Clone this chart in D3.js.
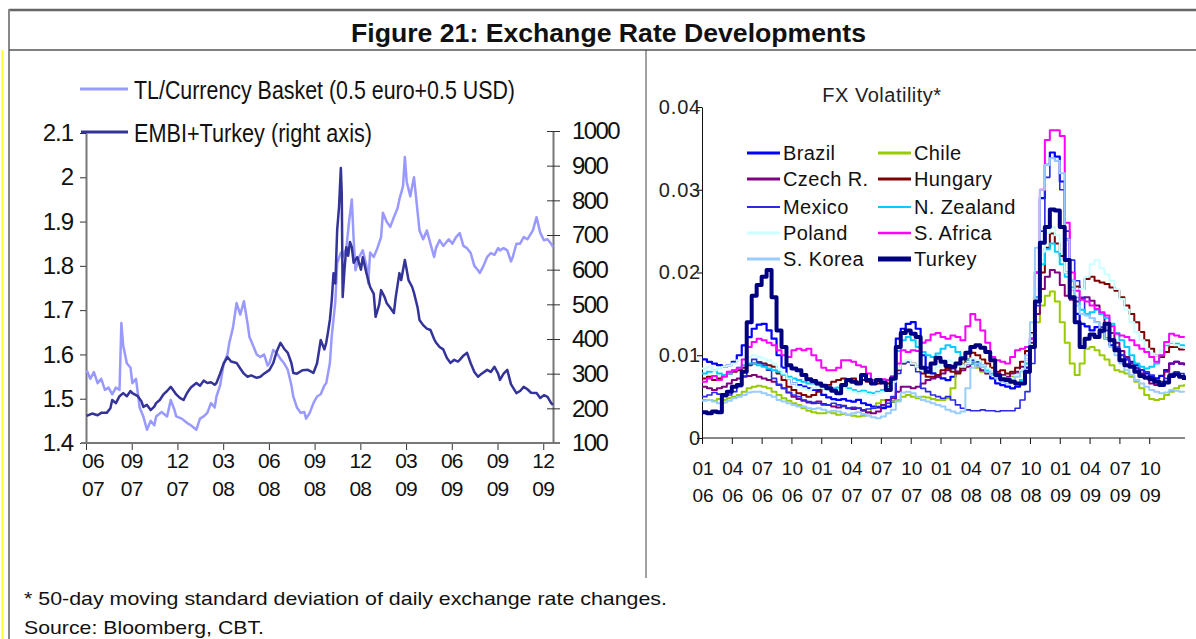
<!DOCTYPE html>
<html>
<head>
<meta charset="utf-8">
<script src="https://cdn.jsdelivr.net/npm/d3@7"></script>
<style>
  html, body { margin: 0; padding: 0; background: #fff; }
  svg { display: block; font-family: "Liberation Sans", Arial, sans-serif; }
</style>
</head>
<body>
<svg id="chart" width="1196" height="639"></svg>
<script>
// ---- left panel data: [decimal year, value] ----
const basketSeries = [
  [2007.42,1.565],[2007.44,1.545],[2007.46,1.56],[2007.48,1.535],[2007.50,1.545],[2007.52,1.52],[2007.54,1.525],
  [2007.56,1.51],[2007.58,1.525],[2007.60,1.52],[2007.61,1.671],[2007.62,1.62],[2007.64,1.58],[2007.66,1.57],
  [2007.67,1.535],[2007.69,1.545],[2007.71,1.48],[2007.73,1.46],[2007.75,1.43],[2007.77,1.45],[2007.79,1.44],
  [2007.80,1.46],[2007.83,1.47],[2007.86,1.46],[2007.88,1.497],[2007.90,1.475],[2007.91,1.46],[2007.94,1.455],
  [2007.97,1.445],[2007.99,1.44],[2008.02,1.43],[2008.04,1.455],[2008.06,1.46],[2008.08,1.468],[2008.10,1.49],
  [2008.12,1.48],[2008.13,1.505],[2008.15,1.53],[2008.17,1.58],[2008.19,1.6],[2008.20,1.626],[2008.22,1.66],
  [2008.24,1.716],[2008.26,1.69],[2008.28,1.72],[2008.30,1.67],[2008.31,1.64],[2008.33,1.62],[2008.35,1.6],
  [2008.37,1.594],[2008.39,1.6],[2008.41,1.575],[2008.42,1.58],[2008.44,1.61],[2008.46,1.603],[2008.48,1.59],
  [2008.50,1.58],[2008.52,1.565],[2008.54,1.53],[2008.55,1.505],[2008.57,1.48],[2008.59,1.468],[2008.61,1.47],
  [2008.62,1.455],[2008.64,1.468],[2008.66,1.49],[2008.68,1.505],[2008.70,1.51],[2008.72,1.53],[2008.73,1.535],
  [2008.75,1.58],[2008.76,1.64],[2008.78,1.72],[2008.79,1.806],[2008.81,1.83],[2008.82,1.82],[2008.84,1.84],
  [2008.855,1.9],[2008.87,1.95],[2008.88,1.86],[2008.89,1.79],[2008.91,1.82],[2008.93,1.835],[2008.95,1.80],
  [2008.96,1.76],[2008.97,1.83],[2008.99,1.82],[2009.01,1.84],[2009.03,1.865],[2009.04,1.92],[2009.06,1.90],
  [2009.08,1.888],[2009.10,1.91],[2009.12,1.93],[2009.13,1.95],[2009.15,1.98],[2009.16,2.046],[2009.17,1.99],
  [2009.19,1.957],[2009.20,1.98],[2009.21,2.0],[2009.22,1.96],[2009.24,1.88],[2009.26,1.86],[2009.28,1.88],
  [2009.30,1.85],[2009.32,1.82],[2009.33,1.84],[2009.35,1.858],[2009.37,1.845],[2009.40,1.86],[2009.42,1.85],
  [2009.44,1.865],[2009.46,1.874],[2009.48,1.845],[2009.50,1.84],[2009.52,1.829],[2009.54,1.8],[2009.56,1.79],
  [2009.57,1.784],[2009.59,1.80],[2009.61,1.82],[2009.63,1.829],[2009.65,1.825],[2009.67,1.84],[2009.68,1.835],
  [2009.70,1.84],[2009.72,1.835],[2009.74,1.81],[2009.75,1.82],[2009.77,1.85],[2009.79,1.85],[2009.81,1.865],
  [2009.83,1.86],[2009.86,1.88],[2009.88,1.91],[2009.90,1.875],[2009.92,1.858],[2009.94,1.86],[2009.96,1.85],
  [2009.97,1.843]
];
const embiSeries = [
  [2007.42,178],[2007.45,185],[2007.48,180],[2007.50,187],[2007.53,187],[2007.55,200],[2007.56,224],[2007.58,215],
  [2007.60,235],[2007.62,244],[2007.64,235],[2007.66,250],[2007.67,244],[2007.70,235],[2007.72,220],[2007.73,204],
  [2007.75,210],[2007.77,195],[2007.79,205],[2007.80,215],[2007.82,224],[2007.84,240],[2007.86,250],[2007.88,262],
  [2007.89,255],[2007.91,240],[2007.93,230],[2007.95,224],[2007.97,245],[2007.99,260],[2008.02,273],[2008.04,265],
  [2008.06,280],[2008.08,273],[2008.10,275],[2008.12,268],[2008.13,273],[2008.15,300],[2008.17,330],[2008.19,348],
  [2008.21,335],[2008.24,331],[2008.26,315],[2008.28,300],[2008.30,291],[2008.32,295],[2008.35,288],[2008.37,291],
  [2008.39,300],[2008.42,311],[2008.44,330],[2008.46,365],[2008.48,389],[2008.50,372],[2008.52,360],[2008.54,330],
  [2008.55,302],[2008.57,300],[2008.60,310],[2008.63,311],[2008.65,305],[2008.66,302],[2008.68,330],[2008.70,397],
  [2008.72,370],[2008.73,389],[2008.74,420],[2008.75,455],[2008.76,510],[2008.77,590],[2008.78,560],[2008.79,715],
  [2008.80,780],[2008.81,893],[2008.815,820],[2008.82,521],[2008.83,600],[2008.84,665],[2008.85,640],[2008.86,680],
  [2008.87,665],[2008.88,620],[2008.90,636],[2008.92,600],[2008.93,636],[2008.95,590],[2008.97,550],[2008.99,530],
  [2009.00,464],[2009.02,500],[2009.03,541],[2009.05,520],[2009.06,504],[2009.08,490],[2009.10,475],[2009.11,520],
  [2009.13,590],[2009.14,570],[2009.16,628],[2009.17,600],[2009.18,570],[2009.20,550],[2009.21,533],[2009.23,490],
  [2009.24,455],[2009.26,440],[2009.28,430],[2009.30,426],[2009.32,400],[2009.33,390],[2009.35,377],[2009.37,370],
  [2009.39,345],[2009.41,331],[2009.43,340],[2009.45,335],[2009.46,340],[2009.48,352],[2009.50,360],[2009.52,330],
  [2009.54,305],[2009.56,291],[2009.58,300],[2009.61,311],[2009.63,305],[2009.65,320],[2009.67,300],[2009.68,282],
  [2009.70,300],[2009.72,311],[2009.74,270],[2009.77,244],[2009.79,250],[2009.81,262],[2009.83,255],[2009.85,245],
  [2009.88,244],[2009.90,230],[2009.92,238],[2009.94,233],[2009.96,215],[2009.97,210]
];
const basketTicks = [1.4, 1.5, 1.6, 1.7, 1.8, 1.9, 2.0, 2.1];
const embiTicks = [100, 200, 300, 400, 500, 600, 700, 800, 900, 1000];
const leftTickDates = [2007+5/12, 2007+8/12, 2007+11/12, 2008+2/12, 2008+5/12, 2008+8/12,
                       2008+11/12, 2009+2/12, 2009+5/12, 2009+8/12, 2009+11/12];
const leftTickMonth = ['06','09','12','03','06','09','12','03','06','09','12'];
const leftTickYear  = ['07','07','07','08','08','08','08','09','09','09','09'];

// ---- right panel data: half-monthly from Jan 2006 ----
const fxDates = d3.range(98).map(i => 2006 + i / 24);
const brazil = [
  .0095,.0092,.0090,.0088,.0086,.0088,.0092,.0100,.0112,.0122, .0132,.0137,.0138,.0130,.0120,.0100,.0085,.0072,.0066,.0064,
  .0062,.0060,.0058,.0058,.0052,.0049,.0047,.0046,.0047,.0045, .0044,.0046,.0042,.0040,.0038,.0037,.0036,.0038,.0044,.0120,
  .0132,.0138,.0140,.0132,.0100,.0085,.0078,.0074,.0072,.0070, .0074,.0080,.0085,.0090,.0094,.0092,.0088,.0080,.0072,.0066,
  .0064,.0062,.0060,.0062,.0070,.0085,.0120,.0200,.0290,.0330, .0345,.0340,.0310,.0240,.0180,.0150,.0138,.0135,.0130,.0134,
  .0128,.0120,.0112,.0108,.0100,.0095,.0092,.0088,.0082,.0078, .0074,.0072,.0075,.0082,.0090,.0092,.0090,.0088];
const chile = [
  .0046,.0046,.0045,.0047,.0046,.0048,.0050,.0052,.0056,.0060, .0062,.0063,.0062,.0060,.0056,.0052,.0048,.0045,.0042,.0040,
  .0036,.0033,.0031,.0030,.0030,.0031,.0030,.0028,.0029,.0028, .0027,.0026,.0027,.0030,.0036,.0042,.0046,.0045,.0044,.0046,
  .0050,.0052,.0050,.0048,.0050,.0049,.0047,.0046,.0046,.0048, .0060,.0080,.0090,.0095,.0092,.0085,.0080,.0078,.0076,.0074,
  .0072,.0070,.0074,.0078,.0082,.0090,.0110,.0140,.0160,.0172, .0177,.0165,.0140,.0115,.0090,.0076,.0090,.0108,.0110,.0106,
  .0100,.0095,.0088,.0082,.0080,.0078,.0074,.0068,.0060,.0052, .0047,.0046,.0047,.0052,.0056,.0060,.0063,.0065];
const czech = [
  .0062,.0060,.0058,.0060,.0062,.0066,.0070,.0072,.0074,.0075, .0076,.0074,.0072,.0070,.0068,.0064,.0060,.0055,.0050,.0047,
  .0045,.0043,.0042,.0044,.0041,.0040,.0038,.0037,.0039,.0036, .0035,.0036,.0033,.0031,.0030,.0032,.0040,.0046,.0048,.0056,
  .0062,.0062,.0060,.0062,.0066,.0070,.0072,.0074,.0078,.0082, .0084,.0080,.0082,.0086,.0090,.0088,.0082,.0078,.0080,.0078,
  .0076,.0074,.0078,.0080,.0086,.0095,.0115,.0150,.0180,.0195, .0203,.0200,.0185,.0172,.0167,.0165,.0168,.0170,.0166,.0160,
  .0150,.0138,.0127,.0115,.0105,.0098,.0090,.0084,.0078,.0072, .0066,.0064,.0068,.0080,.0090,.0092,.0090,.0088];
const hungary = [
  .0072,.0074,.0070,.0072,.0075,.0078,.0080,.0082,.0085,.0088, .0090,.0091,.0090,.0088,.0086,.0078,.0070,.0062,.0058,.0054,
  .0052,.0050,.0052,.0056,.0060,.0064,.0068,.0070,.0072,.0070, .0072,.0068,.0070,.0068,.0066,.0066,.0067,.0066,.0070,.0082,
  .0090,.0092,.0090,.0086,.0078,.0074,.0074,.0076,.0082,.0084, .0080,.0078,.0085,.0095,.0103,.0100,.0095,.0090,.0085,.0080,
  .0082,.0078,.0080,.0085,.0092,.0105,.0127,.0170,.0200,.0230, .0247,.0235,.0220,.0200,.0190,.0183,.0180,.0192,.0195,.0190,
  .0188,.0186,.0182,.0178,.0170,.0160,.0150,.0140,.0128,.0118, .0108,.0100,.0098,.0104,.0110,.0110,.0107,.0106];
const mexico = [
  .0050,.0052,.0055,.0053,.0050,.0052,.0056,.0062,.0075,.0088, .0095,.0092,.0088,.0082,.0072,.0065,.0060,.0055,.0052,.0050,
  .0046,.0044,.0043,.0042,.0040,.0040,.0042,.0040,.0038,.0036, .0037,.0036,.0034,.0035,.0036,.0038,.0039,.0042,.0050,.0078,
  .0090,.0092,.0088,.0080,.0060,.0056,.0052,.0050,.0048,.0050, .0046,.0040,.0036,.0034,.0033,.0033,.0034,.0033,.0033,.0032,
  .0033,.0033,.0033,.0036,.0046,.0056,.0090,.0160,.0250,.0315, .0338,.0335,.0300,.0250,.0215,.0190,.0170,.0150,.0145,.0140,
  .0134,.0130,.0120,.0110,.0100,.0095,.0090,.0085,.0082,.0080, .0076,.0070,.0068,.0072,.0078,.0080,.0078,.0076];
const newZealand = [
  .0078,.0080,.0082,.0078,.0076,.0078,.0082,.0085,.0088,.0090, .0090,.0088,.0086,.0084,.0082,.0080,.0076,.0074,.0072,.0070,
  .0068,.0066,.0066,.0064,.0062,.0062,.0060,.0061,.0062,.0060, .0058,.0056,.0057,.0055,.0054,.0056,.0058,.0062,.0075,.0105,
  .0118,.0122,.0118,.0110,.0104,.0100,.0098,.0102,.0108,.0112, .0110,.0104,.0098,.0095,.0090,.0088,.0086,.0082,.0078,.0075,
  .0072,.0070,.0068,.0066,.0070,.0090,.0120,.0170,.0210,.0228, .0235,.0225,.0210,.0195,.0182,.0170,.0155,.0150,.0152,.0155,
  .0150,.0145,.0138,.0127,.0118,.0110,.0100,.0090,.0086,.0084, .0086,.0090,.0100,.0112,.0115,.0114,.0112,.0110];
const poland = [
  .0084,.0086,.0082,.0084,.0086,.0088,.0090,.0094,.0096,.0098, .0100,.0098,.0096,.0094,.0090,.0084,.0078,.0072,.0066,.0062,
  .0060,.0058,.0060,.0062,.0060,.0058,.0056,.0058,.0060,.0058, .0056,.0054,.0055,.0053,.0052,.0054,.0056,.0060,.0068,.0084,
  .0092,.0094,.0090,.0086,.0082,.0080,.0082,.0086,.0090,.0094, .0092,.0088,.0086,.0090,.0096,.0094,.0088,.0084,.0080,.0076,
  .0074,.0070,.0072,.0076,.0082,.0095,.0125,.0180,.0225,.0248, .0255,.0245,.0225,.0200,.0180,.0172,.0180,.0195,.0210,.0215,
  .0205,.0198,.0190,.0180,.0168,.0155,.0140,.0128,.0118,.0108, .0102,.0100,.0106,.0114,.0116,.0112,.0110,.0108];
const southAfrica = [
  .0068,.0072,.0075,.0070,.0074,.0080,.0082,.0085,.0095,.0110, .0116,.0120,.0118,.0115,.0112,.0106,.0100,.0098,.0106,.0108,
  .0106,.0108,.0100,.0094,.0085,.0082,.0082,.0085,.0094,.0094, .0092,.0088,.0086,.0078,.0070,.0070,.0071,.0070,.0074,.0090,
  .0106,.0104,.0106,.0105,.0115,.0118,.0125,.0127,.0122,.0120, .0124,.0122,.0118,.0135,.0150,.0143,.0130,.0115,.0098,.0094,
  .0092,.0090,.0098,.0106,.0108,.0110,.0120,.0200,.0300,.0360, .0372,.0372,.0365,.0260,.0200,.0178,.0167,.0165,.0160,.0156,
  .0152,.0148,.0135,.0126,.0124,.0122,.0118,.0112,.0108,.0104, .0098,.0092,.0100,.0116,.0126,.0124,.0122,.0121];
const southKorea = [
  .0045,.0046,.0044,.0042,.0043,.0045,.0048,.0050,.0052,.0055, .0056,.0056,.0054,.0052,.0050,.0046,.0044,.0042,.0040,.0038,
  .0038,.0036,.0035,.0036,.0034,.0032,.0033,.0032,.0030,.0028, .0030,.0031,.0029,.0027,.0025,.0024,.0026,.0030,.0034,.0044,
  .0055,.0056,.0054,.0050,.0046,.0044,.0042,.0040,.0038,.0034, .0032,.0030,.0032,.0060,.0085,.0090,.0086,.0080,.0076,.0072,
  .0068,.0066,.0070,.0074,.0080,.0100,.0140,.0230,.0300,.0330, .0338,.0335,.0320,.0240,.0190,.0160,.0150,.0148,.0145,.0140,
  .0130,.0120,.0110,.0100,.0090,.0082,.0076,.0070,.0066,.0062, .0058,.0056,.0054,.0055,.0058,.0057,.0056,.0055];
const turkey = [
  .0031,.0030,.0032,.0031,.0052,.0056,.0062,.0064,.0080,.0140, .0172,.0185,.0195,.0203,.0170,.0130,.0110,.0088,.0084,.0082,
  .0076,.0071,.0069,.0066,.0063,.0060,.0057,.0054,.0064,.0070, .0068,.0066,.0076,.0070,.0066,.0070,.0067,.0058,.0072,.0110,
  .0127,.0130,.0126,.0122,.0085,.0080,.0090,.0097,.0092,.0087, .0086,.0090,.0096,.0103,.0110,.0112,.0109,.0104,.0094,.0076,
  .0071,.0070,.0068,.0066,.0066,.0080,.0110,.0165,.0236,.0255, .0276,.0275,.0255,.0215,.0170,.0140,.0110,.0120,.0125,.0122,
  .0130,.0138,.0118,.0106,.0094,.0088,.0086,.0080,.0075,.0073, .0071,.0068,.0064,.0067,.0075,.0077,.0074,.0070];
const fxNames = ['Brazil','Chile','Czech R.','Hungary','Mexico','N. Zealand','Poland','S. Africa','S. Korea','Turkey'];
const fxValues = [brazil, chile, czech, hungary, mexico, newZealand, poland, southAfrica, southKorea, turkey];
const fxTicks = [0, 0.01, 0.02, 0.03, 0.04];
const fxTickDates = [2006, 2006.25, 2006.5, 2006.75, 2007, 2007.25, 2007.5, 2007.75,
                     2008, 2008.25, 2008.5, 2008.75, 2009, 2009.25, 2009.5, 2009.75];
const fxTickMonth = ['01','04','07','10','01','04','07','10','01','04','07','10','01','04','07','10'];
const fxTickYear  = ['06','06','06','06','07','07','07','07','08','08','08','08','09','09','09','09'];

// styles
const fxColor = ['#0000ff','#99cc00','#800080','#800000','#2a2ae6','#00ccff','#ccffff','#ff00ff','#99ccff','#000080'];
const fxWidth = [2.2, 2, 2, 2, 1.6, 2, 2, 2, 2, 4];
const fxLegendWidth = [3, 3, 3, 3, 2.2, 2.2, 3, 2.6, 3, 5];
const FONT = '"Liberation Sans", Arial, sans-serif';

const svg = d3.select('#chart');
svg.append('rect').attr('width', 1196).attr('height', 639).attr('fill', '#fff');

// ---- frame ----
svg.append('line').attr('x1', 2.5).attr('x2', 2.5).attr('y1', 50).attr('y2', 639)
  .attr('stroke', '#ffff33').attr('stroke-width', 2);
svg.append('line').attr('x1', 9).attr('x2', 1196).attr('y1', 10).attr('y2', 10)
  .attr('stroke', '#666').attr('stroke-width', 2.5);
svg.append('line').attr('x1', 9).attr('x2', 9).attr('y1', 9).attr('y2', 639)
  .attr('stroke', '#888').attr('stroke-width', 2);
svg.append('line').attr('x1', 9).attr('x2', 1196).attr('y1', 50).attr('y2', 50)
  .attr('stroke', '#555').attr('stroke-width', 1.5);
svg.append('line').attr('x1', 646).attr('x2', 646).attr('y1', 50).attr('y2', 578)
  .attr('stroke', '#444').attr('stroke-width', 1);

svg.append('text').attr('x', 351).attr('y', 42)
  .attr('font-size', 25).attr('font-weight', 'bold').attr('fill', '#111')
  .attr('textLength', 515).attr('lengthAdjust', 'spacingAndGlyphs')
  .text('Figure 21: Exchange Rate Developments');

svg.append('text').attr('x', 24).attr('y', 605).attr('font-size', 19).attr('fill', '#111')
  .attr('textLength', 643).attr('lengthAdjust', 'spacingAndGlyphs')
  .text('* 50-day moving standard deviation of daily exchange rate changes.');
svg.append('text').attr('x', 24).attr('y', 634).attr('font-size', 19).attr('fill', '#111')
  .attr('textLength', 240).attr('lengthAdjust', 'spacingAndGlyphs')
  .text('Source: Bloomberg, CBT.');

// ---- left panel ----
const xL = d3.scaleLinear().domain([2007 + 5/12, 2009.97]).range([86, 553]);
const yL = d3.scaleLinear().domain([1.4, 2.1]).range([443, 133]);
const yR = d3.scaleLinear().domain([100, 1000]).range([443, 131]);

const gLeftAxis = svg.append('g').attr('transform', 'translate(86,0)')
  .call(d3.axisLeft(yL).tickValues(basketTicks).tickSize(6).tickSizeOuter(0).tickPadding(7)
    .tickFormat(d3.format('')));
gLeftAxis.attr('font-family', FONT).attr('font-size', 24);
gLeftAxis.select('.domain').attr('stroke', '#777').attr('stroke-width', 2);
gLeftAxis.selectAll('.tick line').attr('stroke', '#333');
gLeftAxis.selectAll('.tick text').attr('fill', '#111').attr('letter-spacing', -1);

const gRightAxis = svg.append('g').attr('transform', 'translate(553,0)')
  .call(d3.axisRight(yR).tickValues(embiTicks).tickSize(7).tickSizeOuter(0).tickPadding(12)
    .tickFormat(d3.format('d')));
gRightAxis.attr('font-family', FONT).attr('font-size', 24);
gRightAxis.select('.domain').attr('stroke', '#777').attr('stroke-width', 2);
gRightAxis.selectAll('.tick line').attr('x1', -6).attr('stroke', '#333');
gRightAxis.selectAll('.tick text').attr('fill', '#111').attr('letter-spacing', -1.6);

const gBottom = svg.append('g').attr('transform', 'translate(0,443)')
  .call(d3.axisBottom(xL).tickValues(leftTickDates).tickSize(7).tickSizeOuter(0).tickFormat(''));
gBottom.select('.domain').remove();
gBottom.selectAll('.tick line').attr('stroke', '#333');
gBottom.append('line').attr('x1', 81).attr('x2', 560).attr('stroke', '#777').attr('stroke-width', 2);
const leftLabels = svg.append('g').attr('font-size', 21).attr('fill', '#111')
  .attr('text-anchor', 'middle').attr('letter-spacing', -0.8);
leftTickDates.forEach((d, i) => {
  const x = xL(d) + (i === 0 ? 7 : 0);
  leftLabels.append('text').attr('x', x).attr('y', 468).text(leftTickMonth[i]);
  leftLabels.append('text').attr('x', x).attr('y', 496).text(leftTickYear[i]);
});

const basketLine = d3.line().x(d => xL(d[0])).y(d => yL(d[1]));
const embiLine = d3.line().x(d => xL(d[0])).y(d => yR(d[1]));
svg.append('path').datum(basketSeries).attr('d', basketLine)
  .attr('fill', 'none').attr('stroke', '#9999ff').attr('stroke-width', 2.5).attr('stroke-linejoin', 'round');
svg.append('path').datum(embiSeries).attr('d', embiLine)
  .attr('fill', 'none').attr('stroke', '#333399').attr('stroke-width', 2.5).attr('stroke-linejoin', 'round');

// left legend
svg.append('line').attr('x1', 80).attr('x2', 128).attr('y1', 89).attr('y2', 89)
  .attr('stroke', '#9999ff').attr('stroke-width', 3);
svg.append('text').attr('x', 134).attr('y', 99).attr('font-size', 25).attr('fill', '#111')
  .attr('textLength', 381).attr('lengthAdjust', 'spacingAndGlyphs')
  .text('TL/Currency Basket (0.5 euro+0.5 USD)');
svg.append('line').attr('x1', 81).attr('x2', 128).attr('y1', 132).attr('y2', 132)
  .attr('stroke', '#333399').attr('stroke-width', 3);
svg.append('text').attr('x', 134).attr('y', 142).attr('font-size', 25).attr('fill', '#111')
  .attr('textLength', 238).attr('lengthAdjust', 'spacingAndGlyphs')
  .text('EMBI+Turkey (right axis)');

// ---- right panel ----
const xF = d3.scaleLinear().domain([2006, 2010.05]).range([702, 1185]);
const yF = d3.scaleLinear().domain([0, 0.04]).range([438, 107]);

const gFy = svg.append('g').attr('transform', 'translate(702,0)')
  .call(d3.axisLeft(yF).tickValues(fxTicks).tickSize(5).tickSizeOuter(0).tickPadding(-4)
    .tickFormat(d => d === 0 ? '0' : d3.format('.2f')(d)));
gFy.attr('font-family', FONT).attr('font-size', 20);
gFy.select('.domain').attr('stroke', '#111');
gFy.selectAll('.tick text').attr('fill', '#222').attr('letter-spacing', 0.8);

const gFx = svg.append('g').attr('transform', 'translate(0,438)')
  .call(d3.axisBottom(xF).tickValues(fxTickDates).tickSize(6).tickSizeOuter(0).tickFormat(''));
gFx.select('.domain').remove();
gFx.selectAll('.tick line').attr('stroke', '#111');
gFx.append('line').attr('x1', 702).attr('x2', 1185).attr('stroke', '#111');
const fxLabels = svg.append('g').attr('font-size', 19).attr('fill', '#111').attr('text-anchor', 'middle');
fxTickDates.forEach((d, i) => {
  fxLabels.append('text').attr('x', xF(d) + 1).attr('y', 475).text(fxTickMonth[i]);
  fxLabels.append('text').attr('x', xF(d) + 1).attr('y', 502).text(fxTickYear[i]);
});

const fxLine = d3.line().curve(d3.curveStepAfter)
  .x((d, i) => xF(fxDates[i])).y(d => yF(d));
svg.append('g').selectAll('path').data(fxValues).join('path')
  .attr('d', fxLine)
  .attr('fill', 'none')
  .attr('stroke', (d, i) => fxColor[i])
  .attr('stroke-width', (d, i) => fxWidth[i])
  .attr('stroke-linejoin', 'round');

svg.append('text').attr('x', 882).attr('y', 102).attr('text-anchor', 'middle')
  .attr('font-size', 20).attr('letter-spacing', 0.5).attr('fill', '#222').text('FX Volatility*');

const legendRows = [153, 179, 207, 233, 259];
const legend = svg.append('g').attr('font-size', 20).attr('fill', '#111').attr('letter-spacing', 0.4);
fxNames.forEach((name, i) => {
  const row = Math.floor(i / 2), col = i % 2;
  const x0 = col === 0 ? 747 : 878;
  const y0 = legendRows[row];
  legend.append('line').attr('x1', x0).attr('x2', x0 + 33).attr('y1', y0).attr('y2', y0)
    .attr('stroke', fxColor[i]).attr('stroke-width', fxLegendWidth[i]);
  legend.append('text').attr('x', x0 + 36).attr('y', y0 + 7).text(name);
});
</script>
</body>
</html>
